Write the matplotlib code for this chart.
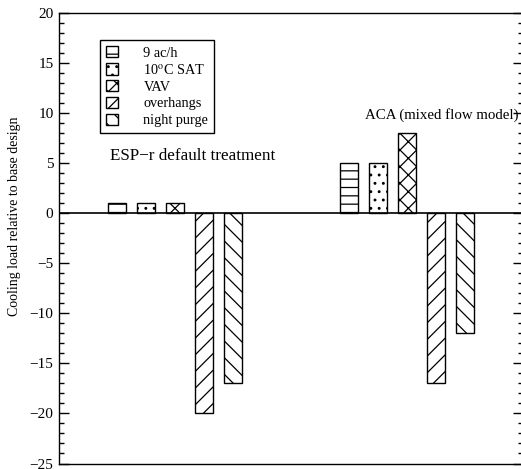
import matplotlib
matplotlib.use("Agg")
import matplotlib.pyplot as plt
from matplotlib.ticker import MultipleLocator

plt.rcParams["font.family"] = ["Liberation Serif", "DejaVu Serif"]
plt.rcParams["mathtext.fontset"] = "stix"
plt.rcParams["hatch.linewidth"] = 0.9

# cooling load change for each design option, per modelling approach
options = ["9 ac/h", "10$^{\\mathrm{o}}$C SAT", "VAV", "overhangs", "night purge"]
hatches = ["--", "..", "xx", "//", "\\\\"]
esp_default = [1, 1, 1, -20, -17]
aca_mixed = [5, 5, 8, -17, -12]
group_labels = ["ESP\u2212r default treatment", "ACA (mixed flow model)"]

fig = plt.figure(figsize=(5.21, 4.69), dpi=100)
ax = fig.add_axes([59 / 521, 5.5 / 469, 464 / 521, 450.2 / 469])

width = 0.6
starts = [2, 10]
for start, values in zip(starts, [esp_default, aca_mixed]):
    for i, (v, h, lab) in enumerate(zip(values, hatches, options)):
        ax.bar(start + i, v, width=width, facecolor="white", edgecolor="black",
               hatch=h, linewidth=1.0, label=lab if start == starts[0] else None,
               zorder=2)

ax.axhline(0, color="black", linewidth=1.2, zorder=3)

ax.text(1.75, 5.7, group_labels[0], fontsize=12.3, va="center", ha="left")
ax.text(10.55, 9.8, group_labels[1], fontsize=10.7, va="center", ha="left")

ax.set_xlim(0, 16)
ax.set_ylim(-25, 20)
ax.set_xticks([])
ax.yaxis.set_major_locator(MultipleLocator(5))
ax.yaxis.set_minor_locator(MultipleLocator(1))
ax.tick_params(axis="y", which="major", direction="in", length=7.2, width=1.0,
               left=True, right=True, labelsize=11, pad=4)
ax.tick_params(axis="y", which="minor", direction="in", length=3.6, width=1.0,
               left=True, right=True)
ax.set_ylabel("Cooling load relative to base design", fontsize=10)
ax.yaxis.set_label_coords(-0.082, 0.55)

for side in ["left", "top", "bottom", "right"]:
    ax.spines[side].set_linewidth(1.0)

leg = ax.legend(loc="upper left", bbox_to_anchor=(0.088, 0.94), borderaxespad=0,
                fontsize=10.3, handlelength=0.85, handleheight=0.85,
                handletextpad=1.8, labelspacing=0.22, fancybox=False,
                framealpha=1, edgecolor="black")
leg.get_frame().set_linewidth(1.0)

fig.savefig("out.png", dpi=100)
